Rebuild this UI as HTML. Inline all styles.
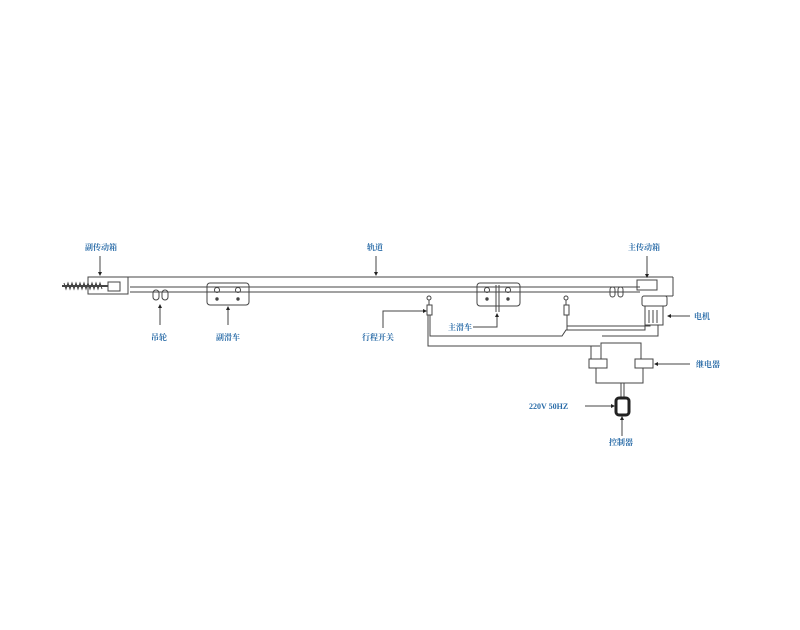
<!DOCTYPE html>
<html><head><meta charset="utf-8"><style>
html,body{margin:0;padding:0;background:#fff;}
svg{display:block}
text{font-family:"Liberation Serif","Noto Serif CJK SC",serif;font-size:8px;fill:#2a6ca8;font-weight:bold}
</style></head><body>
<svg width="800" height="630" viewBox="0 0 800 630" xmlns="http://www.w3.org/2000/svg">
<rect width="800" height="630" fill="#fff"/>
<g stroke="#444" stroke-width="1" fill="none">
<!-- rail -->
<line x1="88" y1="277" x2="673" y2="277"/>
<line x1="130" y1="287" x2="640" y2="287"/>
<line x1="130" y1="292" x2="640" y2="292"/>
<line x1="673" y1="277" x2="673" y2="296"/>
<line x1="660" y1="296" x2="673" y2="296"/>
<!-- left box -->
<rect x="88" y="277" width="40" height="17" fill="#fff"/>
<rect x="108" y="282" width="12" height="9"/>
<path d="M62 286 L108 286" stroke-width="2"/>
<path d="M64 283 l2 6 l2 -6 l2 6 l2 -6 l2 6 l2 -6 l2 6 l2 -6 l2 6 l2 -6 l2 6 l2 -6 l2 6 l2 -6 l2 6 l2 -6 l2 6 l2 -6 l2 6"/>
<!-- wheels -->
<rect x="153" y="290" width="6" height="10" rx="3"/><rect x="162" y="290" width="6" height="10" rx="3"/>
<rect x="610" y="287" width="5" height="10" rx="2.5"/><rect x="618" y="287" width="5" height="10" rx="2.5"/>
<!-- sub trolley -->
<rect x="207" y="283" width="42" height="22" rx="3"/>
<circle cx="217" cy="290" r="2.5"/><circle cx="238" cy="290" r="2.5"/>
<circle cx="217" cy="299" r="1.2" fill="#444"/><circle cx="238" cy="299" r="1.2" fill="#444"/>
<!-- main trolley -->
<rect x="477" y="283" width="43" height="23" rx="3"/>
<circle cx="487" cy="290" r="2.5"/><circle cx="508" cy="290" r="2.5"/>
<circle cx="487" cy="299" r="1.2" fill="#444"/><circle cx="508" cy="299" r="1.2" fill="#444"/>
<line x1="496" y1="285" x2="496" y2="312"/><line x1="499" y1="285" x2="499" y2="312"/>
<!-- right drive -->
<rect x="637" y="280" width="20" height="10"/>
<rect x="642" y="296" width="25" height="10" rx="2"/>
<rect x="645" y="306" width="18" height="19"/>
<line x1="649" y1="310" x2="649" y2="323"/><line x1="653" y1="310" x2="653" y2="323"/><line x1="657" y1="310" x2="657" y2="323"/>
<!-- limit switches -->
<circle cx="429" cy="298" r="2"/><line x1="429" y1="300" x2="429" y2="305"/><rect x="427" y="305" width="5" height="10"/>
<circle cx="566" cy="298" r="2"/><line x1="566" y1="300" x2="566" y2="305"/><rect x="564" y="305" width="5" height="10"/>
<!-- wires -->
<path d="M430 315 V336 H562 L566 330 H645 V325"/>
<path d="M428 315 V346 H591 V359"/>
<path d="M567 315 V326 H650 V325"/>
<path d="M567 326 L567 330"/>
<path d="M591 346 H600"/>
<path d="M601 359 V343 H641 V359"/>
<path d="M658 325 V336 H602"/>
<!-- relays -->
<rect x="589" y="359" width="18" height="9"/>
<rect x="635" y="359" width="18" height="9"/>
<path d="M596 368 V383 H643 V368"/>
<line x1="621" y1="383" x2="621" y2="398"/><line x1="624" y1="383" x2="624" y2="398"/>
<rect x="616" y="398" width="13" height="17" rx="3" stroke-width="3" stroke="#222"/>
<!-- leaders -->
<line x1="100" y1="256" x2="100" y2="273"/>
<line x1="376" y1="256" x2="376" y2="273"/>
<line x1="647" y1="256" x2="647" y2="275"/>
<line x1="160" y1="325" x2="160" y2="307"/>
<line x1="228" y1="325" x2="228" y2="309"/>
<path d="M383 328 V311 H424"/>
<path d="M473 327 H497 V316"/>
<line x1="690" y1="316" x2="670" y2="316"/>
<line x1="690" y1="364" x2="657" y2="364"/>
<line x1="585" y1="406" x2="612" y2="406"/>
<line x1="622" y1="436" x2="622" y2="419"/>
</g>
<g fill="#222">
<path d="M98 272 L102 272 L100 276Z"/><path d="M374 272 L378 272 L376 276Z"/><path d="M645 274 L649 274 L647 278Z"/>
<path d="M158 308 L162 308 L160 304Z"/><path d="M226 310 L230 310 L228 306Z"/>
<path d="M423 309 L423 313 L427 311Z"/><path d="M495 317 L499 317 L497 313Z"/>
<path d="M671 314 L671 318 L667 316Z"/><path d="M658 362 L658 366 L654 364Z"/>
<path d="M611 404 L611 408 L615 406Z"/><path d="M620 420 L624 420 L622 416Z"/>
</g>
<text x="85" y="250">副传动箱</text>
<text x="367" y="250">轨道</text>
<text x="628" y="250">主传动箱</text>
<text x="151" y="340">吊轮</text>
<text x="216" y="340">副滑车</text>
<text x="362" y="340">行程开关</text>
<text x="448" y="330">主滑车</text>
<text x="694" y="319">电机</text>
<text x="696" y="367">继电器</text>
<text x="529" y="409">220V 50HZ</text>
<text x="609" y="445">控制器</text>
</svg>
</body></html>
